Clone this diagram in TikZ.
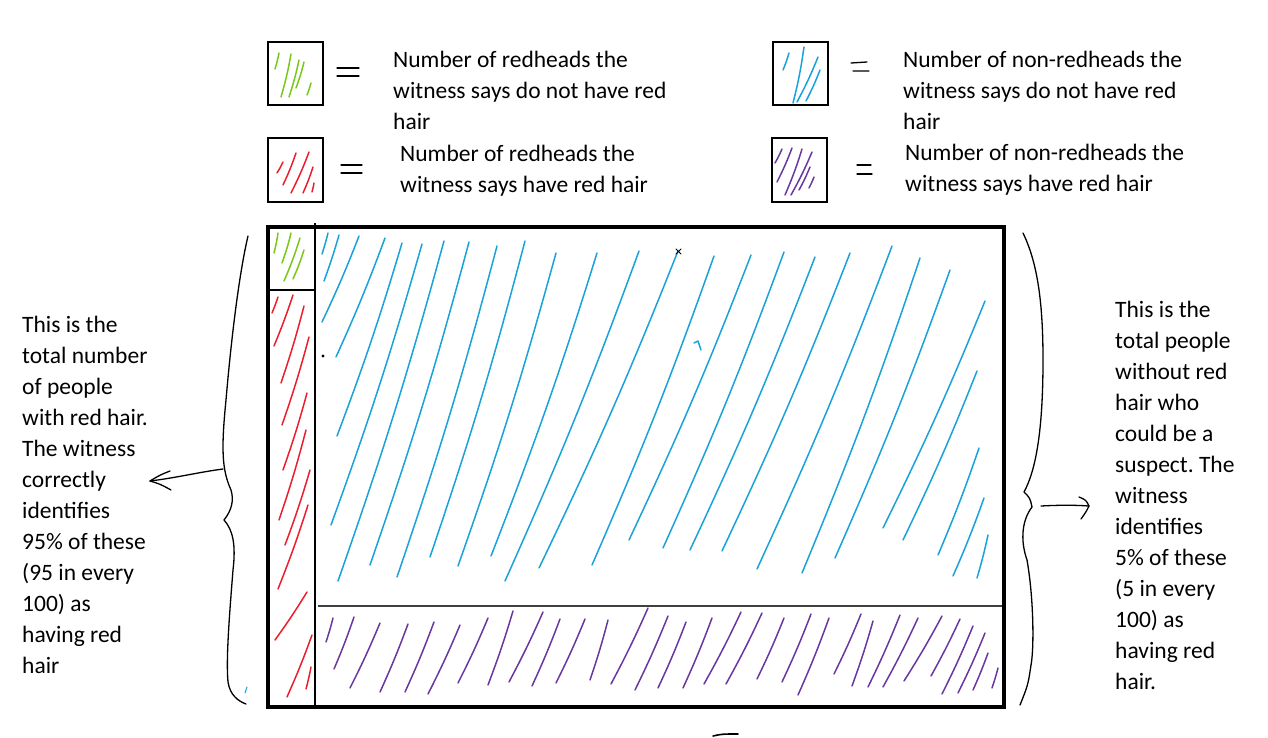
\documentclass[tikz,border=0pt]{standalone}
\usepackage{fontspec}
\setmainfont{Carlito}
\frenchspacing
\usetikzlibrary{arrows.meta}
\definecolor{inkgreen}{RGB}{120,200,25}
\definecolor{inkred}{RGB}{235,30,45}
\definecolor{inkblue}{RGB}{25,162,218}
\definecolor{inkpurple}{RGB}{105,55,160}
\tikzset{
  ink/.style={line width=1.5pt, line cap=round, line join=round},
  gstroke/.style={ink, draw=inkgreen},
  rstroke/.style={ink, draw=inkred},
  bstroke/.style={ink, draw=inkblue},
  pstroke/.style={ink, draw=inkpurple},
  pen/.style={line width=1.3pt, line cap=round, line join=round, draw=black},
  legendbox/.style={draw=black, line width=2.8pt},
  mainbox/.style={draw=black, line width=3.4pt},
  divider/.style={draw=black, line width=1.2pt},
  lbl/.style={inner sep=0pt, align=left, anchor=base west, font=\fontsize{23.5}{31}\selectfont},
}
\begin{document}
\begin{tikzpicture}[x=1pt,y=-1pt]
\useasboundingbox (0,0) rectangle (1268,738);

% ---------- legend boxes ----------
\draw[legendbox] (268,42) rectangle (323,105);
\draw[legendbox] (268,138) rectangle (323,202);
\draw[legendbox] (773,42) rectangle (828,105);
\draw[legendbox] (772,138) rectangle (827,202);

\foreach \a/\b/\c/\d in {279/53/275/69, 291/54/281/97, 299/60/289/97, 304/62/296/88, 311/83/307/95}
  \draw[gstroke] (\a,\b) to[bend left=3] (\c,\d);
\foreach \a/\b/\c/\d in {283/162/277/173, 296/153/283/185, 309/152/291/193, 313/167/303/193, 314/183/312/192}
  \draw[rstroke] (\a,\b) to[bend left=3] (\c,\d);
\foreach \a/\b/\c/\d in {789/53/783/70, 804/47/793/103, 818/57/797/102, 820/70/806/101}
  \draw[bstroke] (\a,\b) to[bend left=3] (\c,\d);
\foreach \a/\b/\c/\d in {782/149/775/163, 792/148/777/182, 802/149/785/195, 812/152/791/195, 810/167/799/190, 814/177/809/188}
  \draw[pstroke] (\a,\b) to[bend left=3] (\c,\d);

% equals signs
\draw[pen] (337,68) -- (359,68) (337,76) -- (359,76);
\draw[pen] (341,165) -- (362,165) (341,173) -- (362,173);
\draw[pen] (851,63) -- (867,62) (853,71) -- (869,71);
\draw[pen] (857,165) -- (871,165) (857,174) -- (872,174);

% legend texts (anchored at the baseline of their last line)
\node[lbl] (tg) at (393,130) {Number of redheads the\\witness says do not have red\\hair};
\node[lbl] (tr) at (400,193) {Number of redheads the\\witness says have red hair};
\node[lbl] (tb) at (903,130) {Number of non-redheads the\\witness says do not have red\\hair};
\node[lbl] (tp) at (905,192) {Number of non-redheads the\\witness says have red hair};

% ---------- main box hatching ----------
% green
\foreach \a/\b/\c/\d in {278/233/274/253, 291/233/282/263, 300/238/284/281, 304/250/293/279}
  \draw[gstroke] (\a,\b) to[bend left=3] (\c,\d);
% red
\foreach \a/\b/\c/\d in {278/297/272/313, 293/295/274/346, 304/306/281/383, 309/337/282/425,
  307/393/283/470, 306/430/279/520, 310/470/285/545, 308/505/278/589,
  307/592/275/640, 312/635/287/697, 311/667/306/689}
  \draw[rstroke] (\a,\b) to[bend left=2] (\c,\d);
% blue
\foreach \a/\b/\c/\d in {328/233/322/254, 339/235/324/281, 359/236/322/322, 385/238/336/357,
  402/243/337/436, 422/244/331/525, 444/241/338/581, 469/242/370/565, 497/246/397/577,
  525/241/430/557, 556/253/458/566, 597/253/491/556, 639/251/505/581, 678/251/539/568,
  714/256/592/565, 751/255/629/540, 784/252/663/548, 815/257/690/550, 850/253/722/551,
  892/246/757/569, 920/258/802/573, 950/270/835/558, 985/301/883/528, 977/371/903/540,
  979/448/938/555, 984/498/953/576, 988/535/977/578}
  \draw[bstroke] (\a,\b) to[bend left=2] (\c,\d);
\draw[bstroke] (694,343) -- (698,341) -- (701,350);
% purple
\foreach \a/\b/\c/\d in {333/618/326/642, 354/617/334/669, 380/623/350/688, 408/624/380/692,
  434/622/405/692, 460/625/428/694, 488/618/458/683, 513/611/488/685, 543/612/509/682,
  560/619/532/686, 585/619/556/683, 608/620/590/680, 648/608/611/684, 668/616/635/690,
  686/622/658/688, 712/618/683/688, 741/612/704/684, 762/613/726/684, 784/618/757/679,
  811/614/782/682, 829/618/798/695, 861/614/834/674, 873/621/852/686, 900/615/868/687,
  918/618/883/687, 942/616/904/681, 960/619/931/676, 973/626/942/694, 985/633/958/693,
  988/653/973/690, 998/668/992/688}
  \draw[pstroke] (\a,\b) to[bend left=2] (\c,\d);

% small marks
\fill[black] (323,356) circle (1.6);
\draw[pen, line width=1pt] (676,249) -- (681,254) (681,249) -- (676,254);

% dividers
\draw[divider] (315,223) -- (315,707);
\draw[divider] (268,290) -- (315,290);
\draw[divider, draw=black!75] (318,606) -- (1004,606);

% main frame
\draw[mainbox] (268,227) rectangle (1004,707);

% ---------- braces and arrows ----------
\draw[pen] (248,236) .. controls (240,270) and (232,330) .. (226,400)
  .. controls (221,450) and (222,470) .. (231,490)
  .. controls (234,500) and (232,510) .. (224,520)
  .. controls (233,530) and (236,545) .. (233,570)
  .. controls (229,620) and (226,660) .. (228,682)
  .. controls (230,695) and (238,701) .. (246,704);
\draw[bstroke, line width=1pt] (247,687) -- (245,693);

\coordinate (la) at (223,469);
\coordinate (lt) at (150,481);
\draw[pen] (la) .. controls (200,472) and (175,478) .. (lt);
\draw[pen] (170,471) .. controls (160,475) .. (lt) .. controls (160,484) .. (171,490);

\draw[pen] (1023,233) .. controls (1037,262) and (1043,300) .. (1043,360)
  .. controls (1043,430) and (1036,470) .. (1024,492)
  .. controls (1030,498) .. (1032,507)
  .. controls (1022,520) and (1020,540) .. (1027,560)
  .. controls (1034,600) and (1034,650) .. (1031,665)
  .. controls (1028,685) .. (1020,705);

\coordinate (ra) at (1041,506);
\coordinate (rt) at (1089,506);
\draw[pen] (ra) .. controls (1060,505) and (1075,505) .. (rt);
\draw[pen] (1079,497) .. controls (1086,500) .. (rt) .. controls (1086,512) .. (1081,519);

% bottom tick
\draw[pen, line width=1.6pt] (713,736) .. controls (722,734) .. (738,734);

% side texts (anchored at the baseline of their last line)
\node[lbl] (lefttext) at (22,673) {This is the\\total number\\of people\\with red hair.\\The witness\\correctly\\identifies\\95\% of these\\(95 in every\\100) as\\having red\\hair};
\node[lbl] (righttext) at (1115,689) {This is the\\total people\\without red\\hair who\\could be a\\suspect. The\\witness\\identifies\\5\% of these\\(5 in every\\100) as\\having red\\hair.};
\end{tikzpicture}
\end{document}
